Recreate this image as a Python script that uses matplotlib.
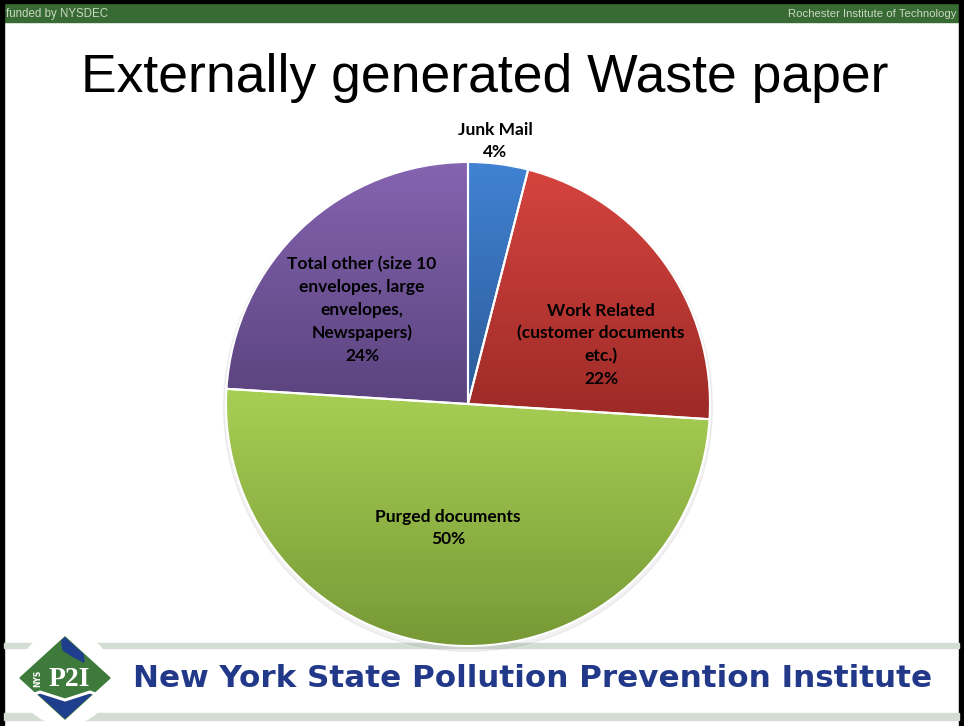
import numpy as np
import matplotlib.pyplot as plt
from matplotlib.patches import Rectangle, Polygon, Circle
from matplotlib.colors import LinearSegmentedColormap

W, H = 964, 726

# pie data (clockwise from 12 o'clock)
categories = ['Junk Mail',
              'Work Related\n(customer documents\netc.)',
              'Purged documents',
              'Total other (size 10\nenvelopes, large\nenvelopes,\nNewspapers)']
shares = [4, 22, 50, 24]
top_colors = ['#4182D3', '#D5443F', '#A8CF54', '#8564B0']
bottom_colors = ['#2C5B98', '#9D2A27', '#779936', '#5A437E']
# label centres on the slide, in pixels
label_pos = [(495, 141), (601, 345), (448, 528), (362, 310)]

title = 'Externally generated Waste paper'
footer = 'New York State Pollution Prevention Institute'

fig = plt.figure(figsize=(W / 100, H / 100), dpi=100)

# slide decorations drawn in pixel coordinates
bg = fig.add_axes([0, 0, 1, 1], zorder=0)
bg.set_xlim(0, W)
bg.set_ylim(H, 0)
bg.axis('off')

bg.add_patch(Rectangle((3, 3), 958, 19, color='#386A33'))
bg.text(6, 17, 'funded by NYSDEC', color='#C9D9C3', fontsize=8.3,
        family='Liberation Sans', ha='left', va='baseline')
bg.text(957, 17, 'Rochester Institute of Technology', color='#C9D9C3',
        fontsize=8.2, family='Liberation Sans', ha='right', va='baseline')

# frame
bg.add_patch(Rectangle((0, 0), 4, H, color='black'))
bg.add_patch(Rectangle((0, 0), W, 3, color='black'))
bg.add_patch(Rectangle((959, 0), 5, H, color='black'))

bg.text(485, 78, title, fontsize=38.5, family='Liberation Sans',
        ha='center', va='center')

# footer bands
bg.add_patch(Rectangle((4, 643), 955, 5, color='#D3DDD3'))
bg.add_patch(Rectangle((4, 713), 955, 7, color='#D3DDD3'))

# logo
bg.add_patch(Circle((65, 678), 47, color='white', zorder=2))
diamond = Polygon([(65, 637), (110, 678), (65, 719), (20, 678)],
                  closed=True, color='#3D7A3B', zorder=3)
bg.add_patch(diamond)
lower = Polygon([(15, 701), (40, 694), (65, 702), (90, 694), (115, 701),
                 (115, 730), (15, 730)], closed=True, color='#203E8E', zorder=4)
bg.add_patch(lower)
lower.set_clip_path(diamond)
upper = Polygon([(60, 630), (80, 630), (84, 662), (72, 656), (63, 650)],
                closed=True, color='#203E8E', zorder=4)
bg.add_patch(upper)
upper.set_clip_path(diamond)
bg.plot([21, 40, 65, 90, 109], [699, 692, 700, 692, 699], color='white',
        lw=2.2, zorder=5)
bg.text(69, 686, 'P2I', color='white', fontsize=20, weight='bold',
        family='Liberation Serif', ha='center', va='baseline', zorder=6)
bg.text(38, 678, 'NYS', color='white', fontsize=5.5, weight='bold',
        rotation=90, ha='center', va='center', zorder=6)

bg.text(133, 687, footer, color='#22398A', fontsize=22.3, weight='bold',
        family='DejaVu Sans', ha='left', va='baseline')

# pie
cx, cy, r = 468, 404, 242
ax = fig.add_axes([(cx - r) / W, 1 - (cy + r) / H, 2 * r / W, 2 * r / H],
                  zorder=1)
ax.add_patch(Circle((0.0, -0.012), 1.01, color='black', alpha=0.05,
                    zorder=0))
wedges, _ = ax.pie(shares, startangle=90, counterclock=False, radius=1,
                   wedgeprops=dict(edgecolor='white', linewidth=1.5))

grad = np.linspace(0, 1, 256).reshape(-1, 1)
for w, c0, c1 in zip(wedges, top_colors, bottom_colors):
    ext = w.get_path().get_extents()
    cmap = LinearSegmentedColormap.from_list('g', [c1, c0])
    im = ax.imshow(grad, cmap=cmap, origin='lower', aspect='auto',
                   extent=[ext.x0, ext.x1, ext.y0, ext.y1],
                   interpolation='bilinear', zorder=0.5)
    im.set_clip_path(w)
    w.set_facecolor('none')
    w.set_zorder(1)

for name, v, (px, py) in zip(categories, shares, label_pos):
    ax.text((px - cx) / r, (cy - py) / r, '%s\n%d%%' % (name, v),
            family='Lato', weight='bold', fontsize=12.5, linespacing=1.5,
            ha='center', va='center', zorder=3)

ax.set_xlim(-1.05, 1.05)
ax.set_ylim(-1.05, 1.05)
ax.set_position([(cx - 1.05 * r) / W, 1 - (cy + 1.05 * r) / H,
                 2.1 * r / W, 2.1 * r / H])
ax.set_aspect('equal')
ax.axis('off')

fig.savefig('out.png', dpi=100)
